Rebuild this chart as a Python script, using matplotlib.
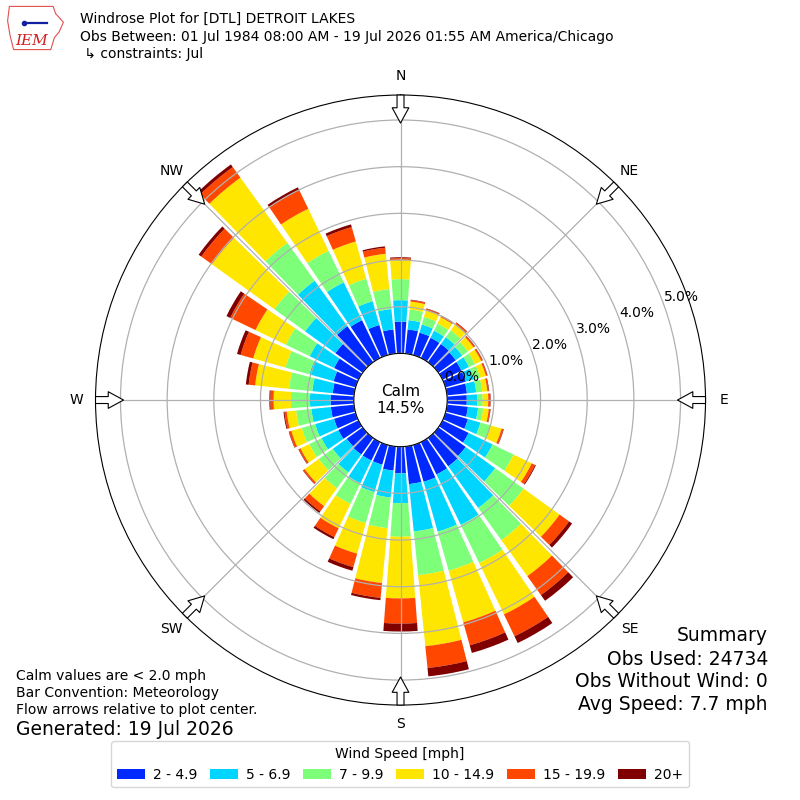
import numpy as np
import matplotlib
matplotlib.use("Agg")
from matplotlib import pyplot as plt
from matplotlib.patches import Patch, Polygon

# wind direction bins (deg, meteorological convention)
directions = np.arange(0, 360, 10)
speed_labels = ['2 - 4.9', '5 - 6.9', '7 - 9.9', '10 - 14.9', '15 - 19.9', '20+']
compass = ['N', 'NE', 'E', 'SE', 'S', 'SW', 'W', 'NW']
rticks = [0, 1, 2, 3, 4, 5]

# frequency [%] of each speed bin per direction
spd_2_5 = [0.68, 0.52, 0.50, 0.48, 0.48, 0.46, 0.45, 0.45, 0.43, 0.42, 0.45, 0.50,
           0.62, 0.72, 0.75, 0.77, 0.82, 0.81, 0.57, 0.52, 0.44, 0.44, 0.44, 0.42,
           0.48, 0.48, 0.50, 0.50, 0.46, 0.49, 0.58, 0.72, 0.95, 0.90, 0.67, 0.52]
spd_5_7 = [0.46, 0.20, 0.18, 0.17, 0.18, 0.17, 0.18, 0.18, 0.20, 0.23, 0.22, 0.28,
           0.57, 0.78, 1.10, 1.20, 1.11, 1.02, 0.64, 0.58, 0.61, 0.54, 0.47, 0.37,
           0.40, 0.42, 0.42, 0.44, 0.44, 0.54, 0.58, 0.80, 1.20, 0.90, 0.53, 0.44]
spd_7_10 = [0.45, 0.23, 0.17, 0.17, 0.18, 0.15, 0.14, 0.14, 0.13, 0.11, 0.11, 0.22,
            0.50, 0.75, 0.85, 0.91, 0.87, 0.94, 0.72, 0.66, 0.69, 0.49, 0.42, 0.37,
            0.29, 0.30, 0.33, 0.41, 0.50, 0.53, 0.57, 0.81, 1.00, 0.75, 0.50, 0.43]
spd_10_15 = [0.41, 0.17, 0.15, 0.15, 0.16, 0.15, 0.15, 0.13, 0.11, 0.12, 0.12, 0.25,
             0.43, 0.95, 0.95, 1.22, 1.15, 1.53, 1.32, 1.18, 0.68, 0.58, 0.47, 0.37,
             0.21, 0.23, 0.20, 0.37, 0.73, 0.72, 0.72, 1.65, 1.72, 1.00, 0.83, 0.76]
spd_15_20 = [0.04, 0.03, 0.03, 0.03, 0.04, 0.03, 0.03, 0.03, 0.03, 0.04, 0.03, 0.04,
             0.08, 0.25, 0.50, 0.52, 0.51, 0.47, 0.54, 0.32, 0.30, 0.21, 0.14, 0.04,
             0.04, 0.05, 0.05, 0.07, 0.14, 0.28, 0.60, 0.28, 0.28, 0.45, 0.32, 0.13]
spd_20p = [0.02, 0.01, 0.01, 0.01, 0.01, 0.01, 0.01, 0.01, 0.01, 0.01, 0.01, 0.01,
           0.02, 0.08, 0.15, 0.16, 0.17, 0.18, 0.17, 0.05, 0.08, 0.05, 0.04, 0.01,
           0.01, 0.01, 0.02, 0.02, 0.06, 0.08, 0.09, 0.07, 0.07, 0.06, 0.06, 0.03]
calm_pct = 14.5

series = [spd_2_5, spd_5_7, spd_7_10, spd_10_15, spd_15_20, spd_20p]
colors = plt.cm.jet(np.linspace(1 / 6., 1, 6))

fig = plt.figure(figsize=(8, 8), dpi=100)
ax = fig.add_axes([0.1194, 0.1187, 0.7625, 0.7625], projection='polar')
ax.set_theta_zero_location('N')
ax.set_theta_direction(-1)

theta = np.deg2rad(directions)
base = np.zeros(len(directions))
for vals, c in zip(series, colors):
    vals = np.array(vals)
    ax.bar(theta, vals, width=np.deg2rad(8.5), bottom=base, color=c,
           edgecolor='none')
    base = base + vals

rmax = 5.535
ax.set_ylim(0, rmax)
ax.set_rorigin(-1.0)
ax.set_yticks(rticks)
ax.set_yticklabels(['%.1f%%' % r for r in rticks], fontsize=10)
ax.set_rlabel_position(70)
ax.set_xticks(np.deg2rad(np.arange(0, 360, 45)))
ax.set_xticklabels(compass, fontsize=10)
ax.tick_params(axis='x', pad=3)
ax.grid(True, color='#b0b0b0', linewidth=0.9)

# flow arrows at the compass points
for t in np.deg2rad(np.arange(0, 360, 45)):
    ax.annotate('', xy=(t, rmax - 0.6), xytext=(t, rmax), xycoords='data',
                arrowprops=dict(arrowstyle='simple,head_width=0.6,head_length=0.55,tail_width=0.25',
                                fc='white', ec='black', lw=0.8, shrinkA=0, shrinkB=0,
                                mutation_scale=20),
                annotation_clip=False, zorder=5)

ax.text(0.5, 0.5, 'Calm\n%.1f%%' % calm_pct, transform=ax.transAxes,
        ha='center', va='center', fontsize=11, zorder=6)

# header
fig.text(0.1, 0.976, 'Windrose Plot for [DTL] DETROIT LAKES', fontsize=10, va='center')
fig.text(0.1, 0.954, 'Obs Between: 01 Jul 1984 08:00 AM - 19 Jul 2026 01:55 AM America/Chicago',
         fontsize=10, va='center')
fig.text(0.1, 0.932, ' \u21b3 constraints: Jul', fontsize=10, va='center')

# IEM logo
lax = fig.add_axes([0.008, 0.935, 0.075, 0.06])
lax.set_xlim(0, 1)
lax.set_ylim(0, 1)
lax.axis('off')
outline = [(0.05, 0.95), (0.78, 0.95), (0.82, 0.80), (0.95, 0.62), (0.88, 0.42),
           (0.80, 0.30), (0.74, 0.05), (0.12, 0.05), (0.06, 0.35), (0.02, 0.65)]
lax.add_patch(Polygon(outline, closed=True, fill=False, ec='#e05050', lw=0.8))
lax.text(0.42, 0.22, 'IEM', color='#d02020', fontsize=11, style='italic',
         family='serif', ha='center', va='center')
lax.plot([0.3, 0.68], [0.6, 0.6], color='#1020a0', lw=1.6)
lax.plot([0.3], [0.6], 'o', color='#1020a0', ms=3)

# footnotes
fig.text(0.02, 0.155, 'Calm values are < 2.0 mph', fontsize=10, va='center')
fig.text(0.02, 0.134, 'Bar Convention: Meteorology', fontsize=10, va='center')
fig.text(0.02, 0.113, 'Flow arrows relative to plot center.', fontsize=10, va='center')
fig.text(0.02, 0.088, 'Generated: 19 Jul 2026', fontsize=13.5, va='center')

fig.text(0.96, 0.206, 'Summary', fontsize=13.5, ha='right', va='center')
fig.text(0.96, 0.176, 'Obs Used: 24734', fontsize=13.5, ha='right', va='center')
fig.text(0.96, 0.148, 'Obs Without Wind: 0', fontsize=13.5, ha='right', va='center')
fig.text(0.96, 0.119, 'Avg Speed: 7.7 mph', fontsize=13.5, ha='right', va='center')

handles = [Patch(facecolor=c, label=l) for c, l in zip(colors, speed_labels)]
fig.legend(handles=handles, ncol=6, loc='lower center', bbox_to_anchor=(0.5, 0.007),
           title='Wind Speed [mph]', fontsize=10, title_fontsize=10,
           columnspacing=0.9, handletextpad=0.6)

fig.savefig('out.png', dpi=100)
